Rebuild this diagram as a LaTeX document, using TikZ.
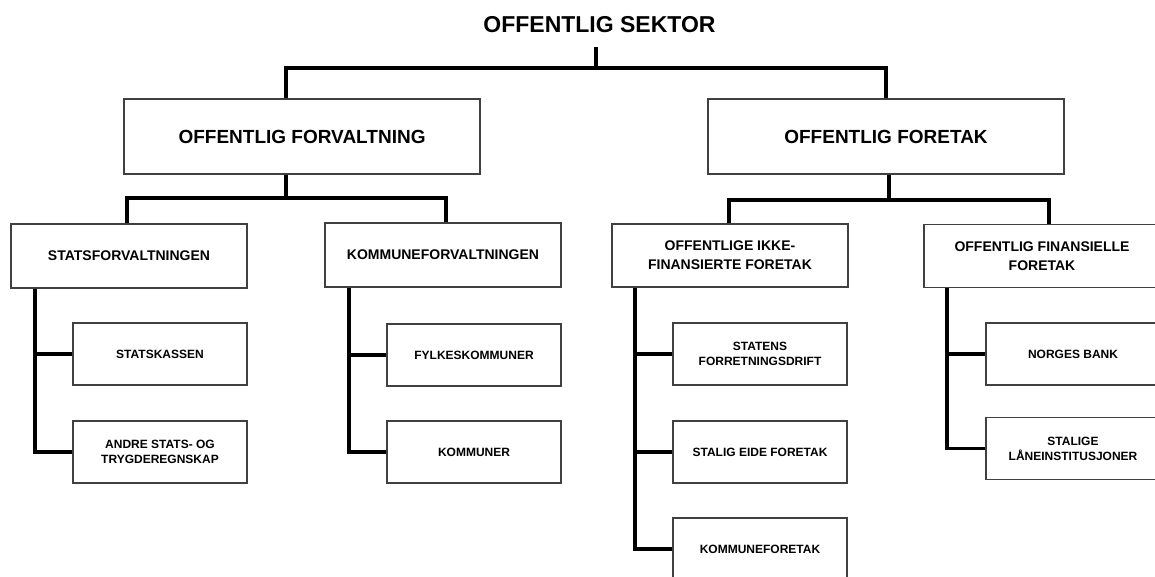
\documentclass[tikz,border=0pt]{standalone}
\usepackage{fontspec}
\setmainfont{Liberation Sans}
\begin{document}
\begin{tikzpicture}[x=1pt,y=-1pt,
  box/.style={draw=black!75,line width=1.1pt,fill=white,inner sep=0pt,align=center,font=\bfseries},
  bigbox/.style={box,minimum width=356pt,minimum height=75pt,font=\fontsize{19}{22}\bfseries},
  midbox/.style={box,minimum width=236pt,minimum height=63pt,font=\fontsize{14}{19}\bfseries},
  smallbox/.style={box,minimum width=174pt,minimum height=62pt,font=\fontsize{12}{15}\bfseries},
  conn/.style={line width=3.5pt,line cap=butt,line join=miter}]
\useasboundingbox (0,0) rectangle (1155,576);
\fill[white] (0,0) rectangle (1155,576);
% title
\node[inner sep=0pt,font=\fontsize{23}{26}\bfseries] (title) at (599.5,25) {OFFENTLIG SEKTOR};
% level 1
\node[bigbox] (of) at (302,136.5) {OFFENTLIG FORVALTNING};
\node[bigbox] (oft) at (886,136.5) {OFFENTLIG FORETAK};
% level 2
\node[midbox,minimum height=64pt] (sf) at (129,256) {STATSFORVALTNINGEN};
\node[midbox,minimum height=64pt] (kf) at (443,255) {KOMMUNEFORVALTNINGEN};
\node[midbox] (oiff) at (730,255.5) {OFFENTLIGE IKKE-\\FINANSIERTE FORETAK};
\node[midbox] (offf) at (1042,256) {OFFENTLIG FINANSIELLE\\FORETAK};
% level 3
\node[smallbox] (sk) at (160,354) {STATSKASSEN};
\node[smallbox] (an) at (160,452) {ANDRE STATS- OG\\TRYGDEREGNSKAP};
\node[smallbox] (fy) at (474,355) {FYLKESKOMMUNER};
\node[smallbox] (ko) at (474,452) {KOMMUNER};
\node[smallbox] (st) at (760,354) {STATENS\\FORRETNINGSDRIFT};
\node[smallbox] (se) at (760,452) {STALIG EIDE FORETAK};
\node[smallbox] (kft) at (760,549) {KOMMUNEFORETAK};
\node[smallbox] (nb) at (1073,354) {NORGES BANK};
\node[smallbox] (sl) at (1073,448.5) {STALIGE\\LÅNEINSTITUSJONER};
% junction coordinates
\coordinate (j0) at (596,68);
\coordinate (j1) at (286,198);
\coordinate (j2) at (889,200);
\coordinate (vsf) at (35,0);
\coordinate (vkf) at (349,0);
\coordinate (voi) at (635,0);
\coordinate (vof) at (947,0);
% connectors
\draw[conn] (j0 |- title.south) ++(0,14) -- (j0);
\draw[conn] (of.north -| 286,0) |- (j0) -| (oft.north);
\draw[conn] (j1 |- of.south) -- (j1);
\draw[conn] (sf.north -| 127,0) |- (j1) -| (kf.north -| 446,0);
\draw[conn] (j2 |- oft.south) -- (j2);
\draw[conn] (oiff.north -| 729,0) |- (j2) -| (offf.north -| 1049,0);
\draw[conn] (vsf |- sf.south) |- (an.west);
\draw[conn] (vsf |- sk.west) -- (sk.west);
\draw[conn] (vkf |- kf.south) |- (ko.west);
\draw[conn] (vkf |- fy.west) -- (fy.west);
\draw[conn] (voi |- oiff.south) |- (kft.west);
\draw[conn] (voi |- st.west) -- (st.west);
\draw[conn] (voi |- se.west) -- (se.west);
\draw[conn] (vof |- offf.south) |- (sl.west);
\draw[conn] (vof |- nb.west) -- (nb.west);
\end{tikzpicture}
\end{document}
